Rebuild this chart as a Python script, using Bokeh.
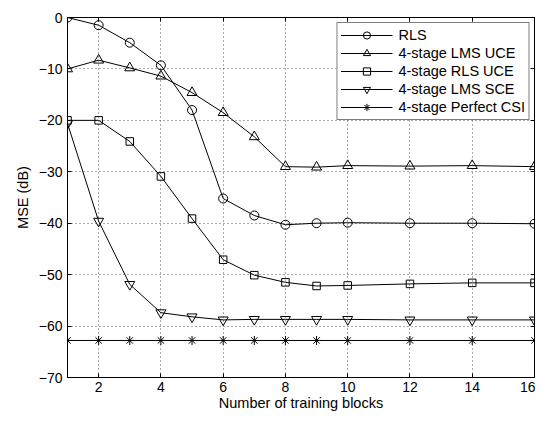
from bokeh.plotting import figure
from bokeh.models import Range1d, FixedTicker, LinearAxis, Legend, LegendItem
from bokeh.embed import file_html
from bokeh.resources import INLINE

# ---- data ----
blocks = [1, 2, 3, 4, 5, 6, 7, 8, 9, 10, 12, 14, 16]
mse_rls = [0.0, -1.5, -4.9, -9.3, -18.0, -35.2, -38.5, -40.3, -40.0, -39.9, -40.0, -40.0, -40.1]
mse_lms_uce = [-10.0, -8.3, -9.8, -11.4, -14.6, -18.5, -23.2, -29.0, -29.1, -28.8, -28.9, -28.8, -29.0]
mse_rls_uce = [-20.0, -20.0, -24.1, -30.9, -39.1, -47.1, -50.1, -51.5, -52.2, -52.1, -51.8, -51.6, -51.6]
mse_lms_sce = [-20.6, -39.6, -51.9, -57.4, -58.2, -58.8, -58.7, -58.7, -58.7, -58.7, -58.8, -58.8, -58.8]
mse_perfect = [-62.8, -62.8, -62.8, -62.8, -62.8, -62.8, -62.8, -62.8, -62.8, -62.8, -62.8, -62.8, -62.8]

series_names = ["RLS", "4-stage LMS UCE", "4-stage RLS UCE", "4-stage LMS SCE", "4-stage Perfect CSI"]

x_ticks = [2, 4, 6, 8, 10, 12, 14, 16]
y_ticks = [-70, -60, -50, -40, -30, -20, -10, 0]
y_tick_labels = ["\u221270", "\u221260", "\u221250", "\u221240", "\u221230", "\u221220", "\u221210", "0"]
x_label = "Number of training blocks"
y_label = "MSE (dB)"

FONT = "Liberation Sans"

p = figure(width=535, height=414,
           x_range=Range1d(1, 16), y_range=Range1d(-70, 0),
           output_backend="svg", toolbar_location=None,
           min_border_left=67, min_border_top=17, min_border_right=1, min_border_bottom=37,
           background_fill_color="white", border_fill_color="white")

p.outline_line_color = "black"
p.outline_line_width = 1

# axes
for ax in (p.xaxis[0], p.yaxis[0]):
    ax.major_tick_in = 4
    ax.major_tick_out = 0
    ax.minor_tick_line_color = None
    ax.axis_line_color = "black"
    ax.major_tick_line_color = "black"
    ax.major_label_text_font = FONT
    ax.major_label_text_font_size = "14px"
    ax.major_label_text_color = "black"
    ax.axis_label_text_font = FONT
    ax.axis_label_text_font_size = "14.5px"
    ax.axis_label_text_font_style = "normal"
    ax.axis_label_text_color = "black"

p.xaxis[0].ticker = FixedTicker(ticks=x_ticks)
p.xaxis[0].major_label_standoff = 4
p.xaxis[0].axis_label = x_label
p.xaxis[0].axis_label_standoff = 0

p.yaxis[0].ticker = FixedTicker(ticks=y_ticks)
p.yaxis[0].major_label_overrides = {t: s for t, s in zip(y_ticks, y_tick_labels)}
p.yaxis[0].major_label_standoff = 5
p.yaxis[0].axis_label = y_label
p.yaxis[0].axis_label_standoff = 5

# mirrored tick axes (MATLAB box with ticks on all sides)
top_ax = LinearAxis(ticker=FixedTicker(ticks=x_ticks), major_tick_in=4, major_tick_out=0,
                    minor_tick_line_color=None, major_label_text_font_size="1px",
                    major_label_text_color=None, major_label_text_alpha=0,
                    major_label_standoff=0, axis_line_color="black")
right_ax = LinearAxis(ticker=FixedTicker(ticks=y_ticks), major_tick_in=4, major_tick_out=0,
                      minor_tick_line_color=None, major_label_text_font_size="1px",
                      major_label_text_color=None, major_label_text_alpha=0,
                      major_label_standoff=0, axis_line_color="black")
p.add_layout(top_ax, "above")
p.add_layout(right_ax, "right")

# grid
p.xgrid.ticker = FixedTicker(ticks=x_ticks)
p.ygrid.ticker = FixedTicker(ticks=y_ticks)
for g in (p.xgrid[0], p.ygrid[0]):
    g.grid_line_color = "#555555"
    g.grid_line_dash = "1 3"
    g.grid_line_width = 1

# series
markers = ["circle", "triangle", "square", "inverted_triangle", "asterisk"]
sizes = [9, 10, 7.5, 10, 9]
data = [mse_rls, mse_lms_uce, mse_rls_uce, mse_lms_sce, mse_perfect]

items = []
for name, ys, mk, sz in zip(series_names, data, markers, sizes):
    ln = p.line(blocks, ys, line_color="black", line_width=1)
    sc = p.scatter(blocks, ys, marker=mk, size=sz, line_color="black",
                   fill_color=None, line_width=1)
    items.append(LegendItem(label=name, renderers=[ln, sc]))

legend = Legend(items=items, location="top_right",
                label_text_font=FONT, label_text_font_size="14.5px", label_text_color="black",
                glyph_width=52, glyph_height=18, label_height=18, label_standoff=6,
                spacing=0, padding=3, margin=5,
                border_line_color="black", border_line_width=1,
                background_fill_color="white", background_fill_alpha=1.0)
p.add_layout(legend)

open("out.html", "w").write(file_html(p, INLINE))
